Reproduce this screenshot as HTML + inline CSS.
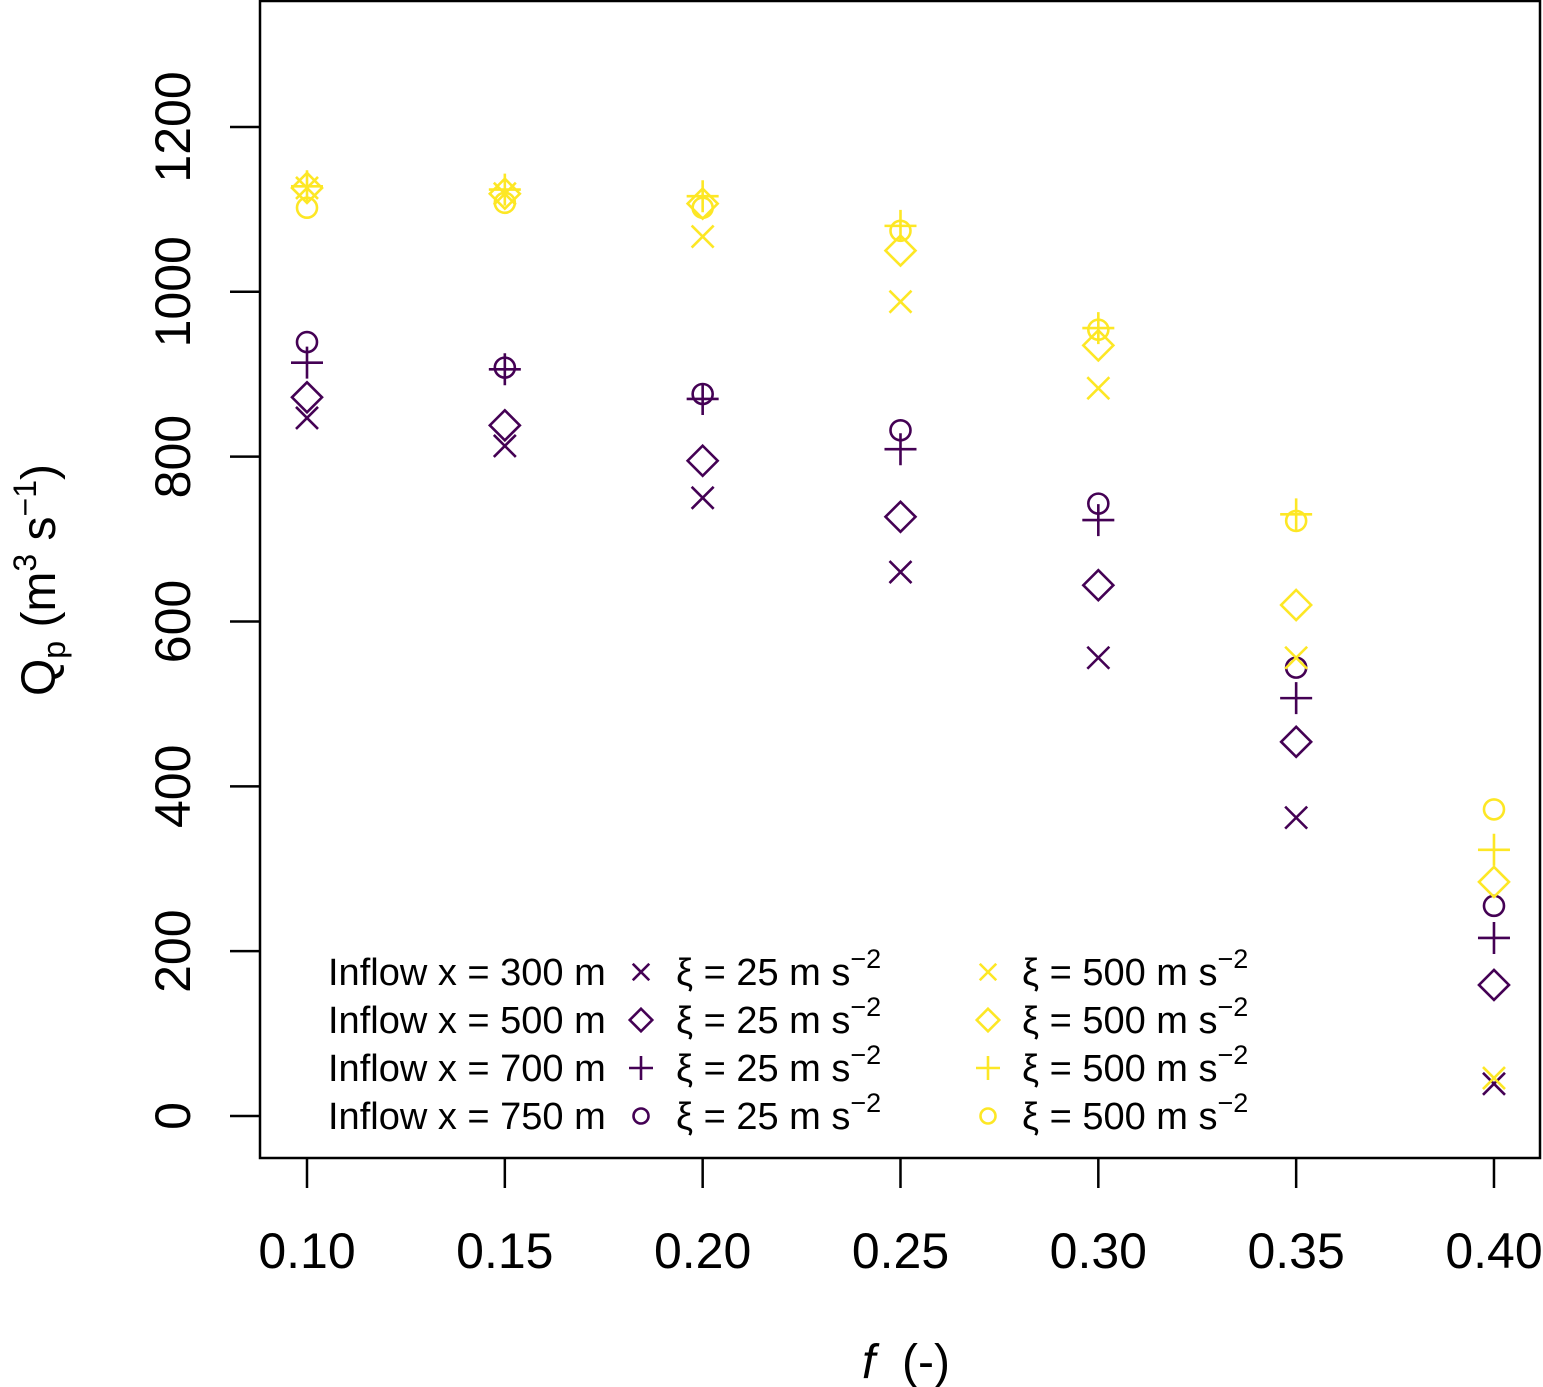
<!DOCTYPE html>
<html><head><meta charset="utf-8"><style>
body{margin:0;background:#fff}
svg{display:block;font-family:"Liberation Sans",Arial,sans-serif}
</style></head><body>
<svg id="chart" width="1543" height="1387" viewBox="0 0 1543 1387" xmlns="http://www.w3.org/2000/svg">
<rect x="260" y="1" width="1280" height="1157" fill="none" stroke="#000" stroke-width="2.5"/>
<g id="axes"></g>
<g id="marks"></g>
<g id="legend"></g>
<text x="906" y="1378" font-size="48" text-anchor="middle" xml:space="preserve"><tspan font-style="italic">f</tspan>  (-)</text>
<text transform="translate(55,580) rotate(-90)" font-size="48" text-anchor="middle">Q<tspan font-size="32" dy="10">p</tspan><tspan dy="-10"> (m</tspan><tspan font-size="32" dy="-19">3</tspan><tspan dy="19"> s</tspan><tspan font-size="32" dy="-19">−1</tspan><tspan dy="19">)</tspan></text>
</svg>
<script>
const fVals=[0.10,0.15,0.20,0.25,0.30,0.35,0.40];
const xTicks=["0.10","0.15","0.20","0.25","0.30","0.35","0.40"];
const yTicks=[0,200,400,600,800,1000,1200];
const p300=[847,813,750,660,556,362,39];
const p500=[872,838,795,727,644,454,159];
const p700=[914,906,870,809,723,507,216];
const p750=[939,908,876,832,743,544,255];
const y300=[1126,1119,1067,988,883,556,46];
const y500=[1126,1119,1107,1050,935,620,284];
const y700=[1128,1124,1116,1080,956,730,323];
const y750=[1102,1108,1102,1074,954,722,372];
const inflow=["300","500","700","750"];

const NS="http://www.w3.org/2000/svg";
const X=v=>307+(v-0.10)/0.05*197.83;
const Y=v=>1116-v*0.8242;
const PUR="#440154",YEL="#FDE725";
function el(tag,attrs,parent){const e=document.createElementNS(NS,tag);for(const k in attrs)e.setAttribute(k,attrs[k]);parent.appendChild(e);return e;}
const axes=document.getElementById('axes');
xTicks.forEach((t,i)=>{
  const x=X(fVals[i]);
  const l=el('line',{x1:x,x2:x,y1:1158,y2:1188,stroke:'#000','stroke-width':2.5},axes);
  
  
  const tx=el('text',{x:x,y:1268,'font-size':50,'text-anchor':'middle'},axes);
  tx.textContent=t;
  
  
});
yTicks.forEach(v=>{
  const y=Y(v);
  const l=el('line',{x1:230,x2:260,y1:y,y2:y,stroke:'#000','stroke-width':2.5},axes);
  
  
  const tx=el('text',{transform:`translate(190,${y}) rotate(-90)`,'font-size':50,'text-anchor':'middle'},axes);
  tx.textContent=v;
  
  
});
function marker(type,x,y,c,parent,s){
  s=s||1;
  const g=el('g',{stroke:c,'stroke-width':2.6,fill:'none'},parent);
  if(type==='x'){const d=11*s;el('path',{d:`M${x-d},${y-d}L${x+d},${y+d}M${x-d},${y+d}L${x+d},${y-d}`},g);}
  else if(type==='d'){const d=15*s;el('path',{d:`M${x},${y-d}L${x+d},${y}L${x},${y+d}L${x-d},${y}Z`},g);}
  else if(type==='p'){const d=16*s;el('path',{d:`M${x-d},${y}L${x+d},${y}M${x},${y-d}L${x},${y+d}`},g);}
  else {el('circle',{cx:x,cy:y,r:10*s},g);}
  return g;
}
const marks=document.getElementById('marks');
const series=[[p300,'x',PUR],[p500,'d',PUR],[p700,'p',PUR],[p750,'o',PUR],[y300,'x',YEL],[y500,'d',YEL],[y700,'p',YEL],[y750,'o',YEL]];
series.forEach(([arr,t,c])=>{
  arr.forEach((v,i)=>{
    const g=marker(t,X(fVals[i]),Y(v),c,marks);
    
    
  });
});
const leg=document.getElementById('legend');
const types=['x','d','p','o'];
inflow.forEach((n,i)=>{
  const y=972+i*48;
  const t=el('text',{x:328,y:y+13,'font-size':38},leg);
  t.textContent=`Inflow x = ${n} m`;
  
  
  const m1=marker(types[i],641,y,PUR,leg,0.75);
  
  
  const t1=el('text',{x:676,y:y+13,'font-size':38},leg);
  t1.innerHTML='ξ = 25 m s<tspan font-size="27" dy="-17">−2</tspan>';
  
  
  const m2=marker(types[i],988,y,YEL,leg,0.75);
  
  
  const t2=el('text',{x:1022,y:y+13,'font-size':38},leg);
  t2.innerHTML='ξ = 500 m s<tspan font-size="27" dy="-17">−2</tspan>';
  
  
});
</script>
</body></html>
